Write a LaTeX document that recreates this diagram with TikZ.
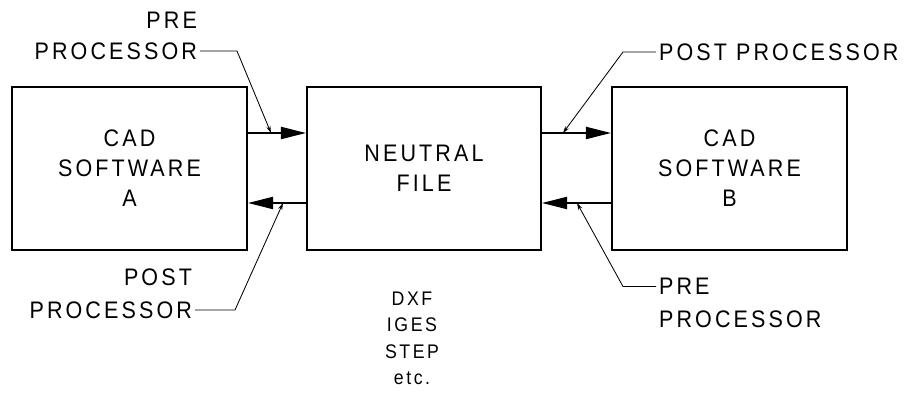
\documentclass[tikz,border=0pt]{standalone}
\usepackage{fontspec}
\setmainfont[LetterSpace=13, FakeStretch=0.9]{Liberation Sans}
\usetikzlibrary{arrows.meta}
\tikzset{
	cadbox/.style={draw, line width=1.4pt, minimum width=5.875cm, minimum height=4.075cm, align=center, font=\fontsize{17}{21.3}\selectfont},
	flow/.style={line width=1.4pt, -{Triangle[length=0.625cm, width=0.3cm]}},
	leader/.style={line width=0.6pt, -{Stealth[length=5pt, width=3pt]}},
	lbl/.style={inner sep=2pt, font=\fontsize{17}{21.3}\selectfont}
}
\begin{document}
\begin{tikzpicture}[x=0.025cm, y=-0.025cm]
	\useasboundingbox (0,0) rectangle (904,398);
	% boxes
	\node[cadbox] (boxA) at (129.5,168.5) {CAD\\SOFTWARE\\A};
	\node[cadbox, minimum width=5.85cm] (neutral) at (424,168.5) {NEUTRAL\\FILE};
	\node[cadbox] (boxB) at (729.5,168.5) {CAD\\SOFTWARE\\B};
	\coordinate (rowT) at (0,133);
	\coordinate (rowB) at (0,203);
	% transfer arrows
	\draw[flow] (boxA.east |- rowT) -- (neutral.west |- rowT);
	\draw[flow] (neutral.west |- rowB) -- (boxA.east |- rowB);
	\draw[flow] (neutral.east |- rowT) -- (boxB.west |- rowT);
	\draw[flow] (boxB.west |- rowB) -- (neutral.east |- rowB);
	% leader ends
	\coordinate (tipA1) at (271,133);
	\coordinate (tipA2) at (283,203);
	\coordinate (tipB1) at (563,133);
	\coordinate (tipB2) at (577,203);
	% labels
	\node[lbl, anchor=east] at (200,20) {PRE};
	\node[lbl, anchor=east] (preA) at (200,51) {PROCESSOR};
	\node[lbl, anchor=east] at (195,277.5) {POST};
	\node[lbl, anchor=east] (postA) at (195,310) {PROCESSOR};
	\node[lbl, anchor=west] (postB) at (656,52) {POST PROCESSOR};
	\node[lbl, anchor=west] (preB) at (656,286.5) {PRE};
	\node[lbl, anchor=west] at (656,319) {PROCESSOR};
	\draw[leader] (preA.east) -- ++(37,0) -- (tipA1);
	\draw[leader] (postA.east) -- ++(40,0) -- (tipA2);
	\draw[leader] (postB.west) -- ++(-33,0) -- (tipB1);
	\draw[leader] (preB.west) -- ++(-33,0) -- (tipB2);
	\node[align=center, font=\fontsize{14}{18.8}\selectfont] (formats) at (412,338.5) {DXF\\IGES\\STEP\\etc.};
\end{tikzpicture}
\end{document}
